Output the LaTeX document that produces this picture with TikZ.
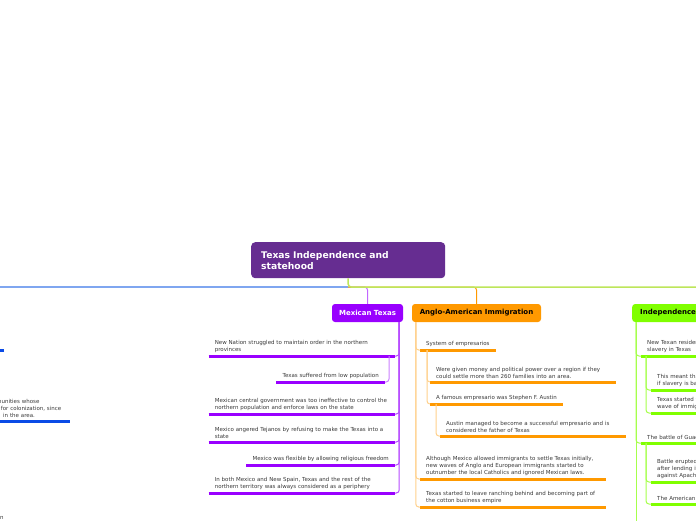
\documentclass[tikz,border=0pt]{standalone}
\usepackage{fontspec}
\setmainfont{DejaVu Sans}
\usepackage{xcolor}
\usepackage{tikz}
\usetikzlibrary{positioning, calc}
\definecolor{rootpurple}{HTML}{662D91}
\definecolor{mexpurple}{HTML}{9900FF}
\definecolor{angloorange}{HTML}{FF9900}
\definecolor{indgreen}{HTML}{80FF00}
\definecolor{colblue}{HTML}{0B4BE6}
\definecolor{lineblue}{HTML}{7FA6F0}
\definecolor{linegreen}{HTML}{BDE65A}
\definecolor{textgrey}{HTML}{3A3A3A}

\begin{document}
\begin{tikzpicture}[
    x=1pt, y=-1pt,
    branch/.style={rectangle, fill=#1, rounded corners=3pt, minimum height=18pt,
                   inner xsep=7pt, font=\fontsize{7}{8}\selectfont\bfseries},
    topic/.style={inner xsep=6pt, inner ysep=3.6pt, align=left, text=textgrey,
                  font=\fontsize{5.5}{6.8}\selectfont},
    wide/.style={text width=174pt},
    uline/.style={line width=3pt, draw=#1},
    link/.style={line width=1pt, rounded corners=3pt, draw=#1}
]
\fill[white] (0,0) rectangle (696,520);
\useasboundingbox (0,0) rectangle (696,520);

% Root and main branches
\node[fill=rootpurple, rounded corners=4pt, text=white, align=left, anchor=north west,
      font=\fontsize{9.2}{11}\selectfont\bfseries, inner xsep=10pt,
      text width=174pt, minimum height=36pt] at (251,242) (root) {Texas Independence and\\statehood};
\node[branch=mexpurple, text=white, minimum width=71pt] at (367.5,313) (mex) {Mexican Texas};
\node[branch=angloorange, minimum width=129pt] at (476.5,313) (anglo) {Anglo-American Immigration};
\node[branch=indgreen, anchor=west, inner xsep=8pt, text width=90pt, align=left] at (632,313) (ind) {Independence};

\coordinate (west) at (0,287);
\coordinate (east) at (700,287);

% Mexican Texas topics
\node[topic, wide, anchor=south east] at (395,356) (m1) {New Nation struggled to maintain order in the northern\\provinces};
\node[topic, anchor=south east] at (385,382) (m2) {Texas suffered from low population};
\node[topic, wide, anchor=south east] at (395,414) (m3) {Mexican central government was too ineffective to control the\\northern population and enforce laws on the state};
\node[topic, wide, anchor=south east] at (395,442) (m4) {Mexico angered Tejanos by refusing to make the Texas into a\\state};
\node[topic, anchor=south east] at (395,465) (m5) {Mexico was flexible by allowing religious freedom};
\node[topic, wide, anchor=south east] at (395,493) (m6) {In both Mexico and New Spain, Texas and the rest of the\\northern territory was always considered as a periphery};

% Anglo-American Immigration topics
\node[topic, anchor=south west] at (420,350) (a1) {System of empresarios};
\node[topic, wide, anchor=south west] at (430,382) (a2) {Were given money and political power over a region if they\\could settle more than 260 families into an area.};
\node[topic, anchor=south west] at (430,404) (a3) {A famous empresario was Stephen F. Austin};
\node[topic, wide, anchor=south west] at (440,436) (a4) {Austin managed to become a successful empresario and is\\considered the father of Texas};
\node[topic, wide, anchor=south west] at (420,479) (a5) {Although Mexico allowed immigrants to settle Texas initially,\\new waves of Anglo and European immigrants started to\\outnumber the local Catholics and ignored Mexican laws.};
\node[topic, wide, anchor=south west] at (420,507) (a6) {Texas started to leave ranching behind and becoming part of\\the cotton business empire};

% Independence topics
\node[topic, wide, anchor=south west] at (641,356) (i1) {New Texan residen\\slavery in Texas};
\node[topic, wide, anchor=south west] at (651,390) (i2) {This meant tha\\if slavery is ba};
\node[topic, wide, anchor=south west] at (651,413) (i3) {Texas started t\\wave of immig};
\node[topic, wide, anchor=south west] at (641,443) (i4) {The battle of Guad};
\node[topic, wide, anchor=south west] at (651,482) (i5) {Battle erupted\\after lending it\\against Apache};
\node[topic, wide, anchor=south west] at (651,504) (i6) {The American};

% Left branch (cut off)
\node[topic, text width=68pt, anchor=south west] at (-10,421) (b2) {munities whose\\s for colonization, since\\\hspace*{7pt}in the area.};
\node[topic, anchor=base west, inner sep=0pt] at (0,519) (b3) {n};
\coordinate (b1) at (4,350);

% Underlines
\foreach \n in {m1,m2,m3,m4,m5,m6}
  \draw[uline=mexpurple] (\n.south west) -- (\n.south east);
\foreach \n in {a1,a2,a3,a4,a5,a6}
  \draw[uline=angloorange] (\n.south west) -- (\n.south east);
\foreach \n in {i1,i2,i3,i4,i5,i6}
  \draw[uline=indgreen] (\n.south west) -- (\n.south east);
\draw[uline=colblue] (b2.south west) -- (b2.south east);
\draw[uline=colblue] (b1) -- ++(-6,0);

% Root connections
\draw[link=mexpurple!60] (root.south |- west) -| (mex.north);
\draw[link=angloorange] (root.south |- west) -| (anglo.north);
\draw[link=lineblue, line width=1.5pt, rounded corners=0pt] (root.south |- west) -- (west);
\draw[link=linegreen, line width=1.5pt] (root.south) |- (east);

% Mexican Texas connections
\coordinate (mexdrop) at ($(mex.south east)+(-4,0)$);
\foreach \n in {m1,m3,m4,m5,m6}
  \draw[link=mexpurple!70] (mexdrop) |- (\n.south east);
\draw[link=mexpurple!50] ($(m1.south east)+(-6,0)$) |- (m2.south east);

% Anglo-American connections
\coordinate (anglodrop) at ($(anglo.south west)+(4,0)$);
\foreach \n in {a1,a5,a6}
  \draw[link=angloorange!45] (anglodrop) |- (\n.south west);
\foreach \n in {a2,a3}
  \draw[link=angloorange!45] ($(a1.south west)+(7,0)$) |- (\n.south west);
\draw[link=angloorange!45] ($(a3.south west)+(6,0)$) |- (a4.south west);

% Independence connections
\coordinate (inddrop) at ($(ind.south west)+(4,0)$);
\draw[link=indgreen!70] (inddrop) -- ++(0,210);
\foreach \n in {i1,i4}
  \draw[link=indgreen!70] (inddrop) |- (\n.south west);
\foreach \n in {i2,i3}
  \draw[link=indgreen!70] ($(i1.south west)+(5,0)$) |- (\n.south west);
\foreach \n in {i5,i6}
  \draw[link=indgreen!70] ($(i4.south west)+(5,0)$) |- (\n.south west);

\end{tikzpicture}
\end{document}
